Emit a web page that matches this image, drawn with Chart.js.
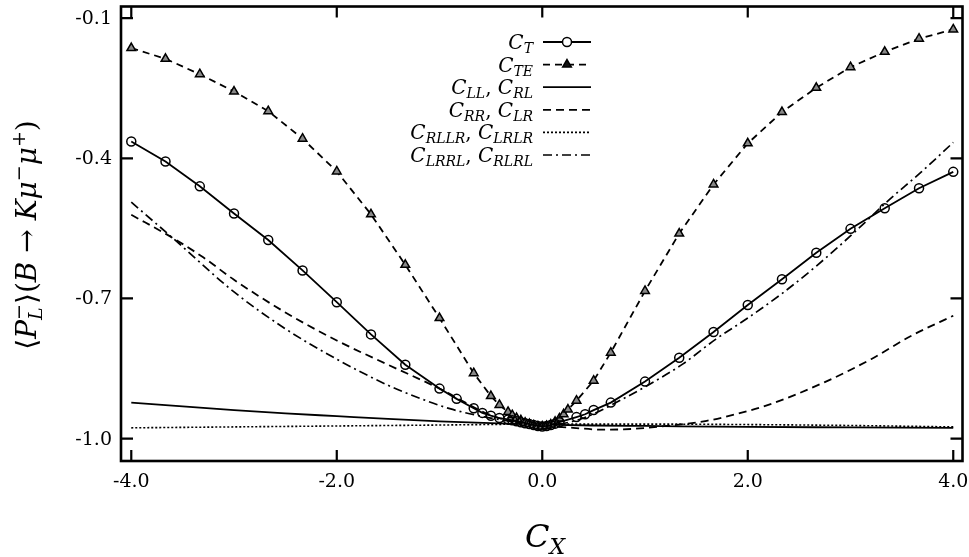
<!DOCTYPE html>
<html>
<head>
<meta charset="utf-8">
<script src="https://cdn.jsdelivr.net/npm/chart.js@4.4.0/dist/chart.umd.min.js"></script>
<style>
  html, body { margin: 0; padding: 0; background: #fff; }
</style>
</head>
<body>
<canvas id="chart" width="969" height="557"></canvas>
<script>
// Axis ticks
const xTicks = [-4, -2, 0, 2, 4];
const yTicks = [-1.0, -0.7, -0.4, -0.1];

// C_T (circles)
const ctX = [-4, -3.667, -3.333, -3, -2.667, -2.333, -2, -1.667, -1.333, -1, -0.833, -0.667, -0.583, -0.5, -0.417, -0.333, -0.292, -0.25, -0.208, -0.167, -0.125, -0.083, -0.042, 0, 0.042, 0.083, 0.125, 0.167, 0.333, 0.417, 0.5, 0.667, 1, 1.333, 1.667, 2, 2.333, 2.667, 3, 3.333, 3.667, 4];
const ctY = [-0.364, -0.407, -0.460, -0.518, -0.575, -0.640, -0.708, -0.777, -0.842, -0.893, -0.915, -0.935, -0.945, -0.951, -0.956, -0.959, -0.961, -0.963, -0.965, -0.967, -0.969, -0.971, -0.973, -0.974, -0.973, -0.971, -0.968, -0.965, -0.954, -0.948, -0.939, -0.923, -0.878, -0.827, -0.772, -0.714, -0.659, -0.602, -0.551, -0.507, -0.464, -0.429];

// C_TE (triangles)
const cteX = [-4, -3.667, -3.333, -3, -2.667, -2.333, -2, -1.667, -1.333, -1, -0.667, -0.5, -0.417, -0.333, -0.292, -0.25, -0.208, -0.167, -0.125, -0.083, -0.042, 0, 0.042, 0.083, 0.125, 0.167, 0.208, 0.25, 0.333, 0.5, 0.667, 1, 1.333, 1.667, 2, 2.333, 2.667, 3, 3.333, 3.667, 4];
const cteY = [-0.164, -0.187, -0.220, -0.257, -0.299, -0.358, -0.428, -0.520, -0.628, -0.742, -0.860, -0.909, -0.928, -0.943, -0.950, -0.956, -0.961, -0.966, -0.969, -0.972, -0.974, -0.974, -0.973, -0.970, -0.964, -0.957, -0.948, -0.938, -0.919, -0.876, -0.816, -0.684, -0.561, -0.456, -0.368, -0.301, -0.249, -0.205, -0.172, -0.144, -0.124];

// C_LL, C_RL
const cllX = [-4, -3.5, -3, -2.5, -2, -1.5, -1, -0.5, 0, 0.5, 1, 2, 3, 4];
const cllY = [-0.923, -0.931, -0.939, -0.946, -0.952, -0.958, -0.963, -0.967, -0.970, -0.972, -0.973, -0.975, -0.976, -0.977];

// C_RR, C_LR
const crrX = [-4, -3.6, -3.3, -3, -2.5, -2, -1.5, -1, -0.5, -0.25, 0, 0.3, 0.6, 0.9, 1.25, 1.6, 1.9, 2.2, 2.75, 3.2, 3.6, 4];
const crrY = [-0.521, -0.570, -0.612, -0.660, -0.730, -0.790, -0.842, -0.893, -0.950, -0.965, -0.972, -0.977, -0.981, -0.979, -0.972, -0.962, -0.947, -0.928, -0.879, -0.830, -0.779, -0.737];

// C_RLLR, C_LRLR
const crllrX = [-4, -3, -2, -1, 0, 1, 2, 3, 4];
const crllrY = [-0.977, -0.975, -0.973, -0.971, -0.969, -0.969, -0.970, -0.972, -0.975];

// C_LRRL, C_RLRL
const clrrlX = [-4, -3.6, -3, -2.5, -2, -1.5, -1.2, -0.9, -0.55, -0.25, 0, 0.3, 0.5, 0.7, 1.05, 1.37, 1.69, 2, 2.33, 2.66, 3.04, 3.37, 3.69, 4];
const clrrlY = [-0.494, -0.570, -0.686, -0.765, -0.830, -0.886, -0.913, -0.936, -0.954, -0.965, -0.972, -0.963, -0.947, -0.925, -0.883, -0.840, -0.787, -0.742, -0.690, -0.632, -0.558, -0.490, -0.429, -0.366];

// Legend subscripts
const legendSubs = [['T'], ['TE'], ['LL', 'RL'], ['RR', 'LR'], ['RLLR', 'LRLR'], ['LRRL', 'RLRL']];

const pts = (xs, ys) => xs.map((x, i) => ({ x: x, y: ys[i] }));
const FONT = '"DejaVu Serif", serif';

const datasets = [
    { data: pts(ctX, ctY), borderWidth: 1.8, borderDash: [], pointStyle: 'circle', pointRadius: 4.5, pointBorderWidth: 1.5, pointBackgroundColor: 'rgba(0,0,0,0)', tension: 0 },
    { data: pts(cteX, cteY), borderWidth: 1.8, borderDash: [7, 5], pointStyle: 'triangle', pointRadius: 5, pointBorderWidth: 1.5, pointBackgroundColor: '#888', tension: 0 },
    { data: pts(cllX, cllY), borderWidth: 1.8, borderDash: [], pointRadius: 0, cubicInterpolationMode: 'monotone' },
    { data: pts(crrX, crrY), borderWidth: 1.8, borderDash: [8, 5], pointRadius: 0, cubicInterpolationMode: 'monotone' },
    { data: pts(crllrX, crllrY), borderWidth: 1.6, borderDash: [2, 2], pointRadius: 0, cubicInterpolationMode: 'monotone' },
    { data: pts(clrrlX, clrrlY), borderWidth: 1.7, borderDash: [9, 4, 2, 4], pointRadius: 0, cubicInterpolationMode: 'monotone' }
];
datasets.forEach(d => { d.borderColor = '#000'; d.pointBorderColor = '#000'; d.fill = false; });

// rich text: segments {t, s, it, dy, adv}
function segFont(s) { return (s.it ? 'italic ' : '') + s.s + 'px ' + FONT; }
function richWidth(ctx, segs) {
    let w = 0;
    segs.forEach(s => { ctx.font = segFont(s); if (s.adv !== false) w += ctx.measureText(s.t).width; });
    return w;
}
function drawRich(ctx, segs, x, y) {
    ctx.textAlign = 'left';
    ctx.textBaseline = 'alphabetic';
    segs.forEach(s => {
        ctx.font = segFont(s);
        ctx.fillText(s.t, x, y + (s.dy || 0));
        if (s.adv !== false) x += ctx.measureText(s.t).width;
    });
}

const frame = {
    id: 'frame',
    afterDraw(chart) {
        const ctx = chart.ctx, ca = chart.chartArea;
        const xs = chart.scales.x, ys = chart.scales.y;
        ctx.save();
        ctx.strokeStyle = '#000';
        ctx.fillStyle = '#000';
        ctx.setLineDash([]);

        // box
        ctx.lineWidth = 2.6;
        ctx.strokeRect(ca.left, ca.top, ca.right - ca.left, ca.bottom - ca.top);

        // inward ticks on all sides
        ctx.lineWidth = 2.2;
        ctx.beginPath();
        xTicks.forEach(v => {
            const px = xs.getPixelForValue(v);
            ctx.moveTo(px, ca.bottom); ctx.lineTo(px, ca.bottom - 11);
            ctx.moveTo(px, ca.top); ctx.lineTo(px, ca.top + 11);
        });
        yTicks.forEach(v => {
            const py = ys.getPixelForValue(v);
            ctx.moveTo(ca.left, py); ctx.lineTo(ca.left + 12, py);
            ctx.moveTo(ca.right, py); ctx.lineTo(ca.right - 12, py);
        });
        ctx.stroke();

        // tick labels
        ctx.font = '19px ' + FONT;
        ctx.textAlign = 'center';
        ctx.textBaseline = 'middle';
        xTicks.forEach(v => ctx.fillText(v.toFixed(1), xs.getPixelForValue(v), ca.bottom + 21));
        ctx.textAlign = 'right';
        yTicks.forEach(v => ctx.fillText(v.toFixed(1), ca.left - 9, ys.getPixelForValue(v) + 1));

        // x title
        const xt = [{ t: 'C', s: 32, it: true }, { t: 'X', s: 22, it: true, dy: 7 }];
        drawRich(ctx, xt, 543 - richWidth(ctx, xt) / 2 + 2, 547);

        // y title
        const yt = [
            { t: '\u27E8', s: 28 }, { t: 'P', s: 28, it: true },
            { t: 'L', s: 19, it: true, dy: 6, adv: false }, { t: '\u2212', s: 19, dy: -11 },
            { t: '\u27E9', s: 28 }, { t: '(', s: 28 }, { t: 'B', s: 28, it: true },
            { t: ' \u2192 ', s: 28 }, { t: 'K', s: 28, it: true }, { t: '\u03BC', s: 28, it: true },
            { t: '\u2212', s: 19, dy: -11 }, { t: '\u03BC', s: 28, it: true },
            { t: '+', s: 19, dy: -11 }, { t: ')', s: 28 }
        ];
        ctx.save();
        ctx.translate(36, 235);
        ctx.rotate(-Math.PI / 2);
        drawRich(ctx, yt, -richWidth(ctx, yt) / 2, 0);
        ctx.restore();

        // legend
        legendSubs.forEach((subs, i) => {
            const y = 42 + i * 22.6;
            const ds = datasets[i];
            const segs = [];
            subs.forEach((sub, j) => {
                if (j > 0) segs.push({ t: ', ', s: 20 });
                segs.push({ t: 'C', s: 20, it: true });
                segs.push({ t: sub, s: 14, it: true, dy: 4 });
            });
            drawRich(ctx, segs, 533 - richWidth(ctx, segs), y + 7);

            ctx.lineWidth = ds.borderWidth;
            ctx.setLineDash(ds.borderDash);
            ctx.beginPath();
            ctx.moveTo(543, y); ctx.lineTo(591, y);
            ctx.stroke();
            ctx.setLineDash([]);
            if (ds.pointRadius > 0) {
                ctx.lineWidth = ds.pointBorderWidth;
                ctx.fillStyle = ds.pointStyle === 'triangle' ? '#111' : '#fff';
                Chart.helpers.drawPoint(ctx, { pointStyle: ds.pointStyle, radius: ds.pointRadius, rotation: 0, borderWidth: ds.pointBorderWidth }, 567, y);
                ctx.fillStyle = '#000';
            }
        });
        ctx.restore();
    }
};

new Chart(document.getElementById('chart'), {
    type: 'line',
    data: { datasets: datasets },
    options: {
        responsive: false,
        animation: false,
        layout: { padding: { left: 121, right: 5, top: 6, bottom: 96 } },
        scales: {
            x: { type: 'linear', min: -4.1, max: 4.09, display: false },
            y: { type: 'linear', min: -1.048, max: -0.075, display: false }
        },
        plugins: { legend: { display: false }, tooltip: { enabled: false } }
    },
    plugins: [frame]
});
</script>
</body>
</html>
